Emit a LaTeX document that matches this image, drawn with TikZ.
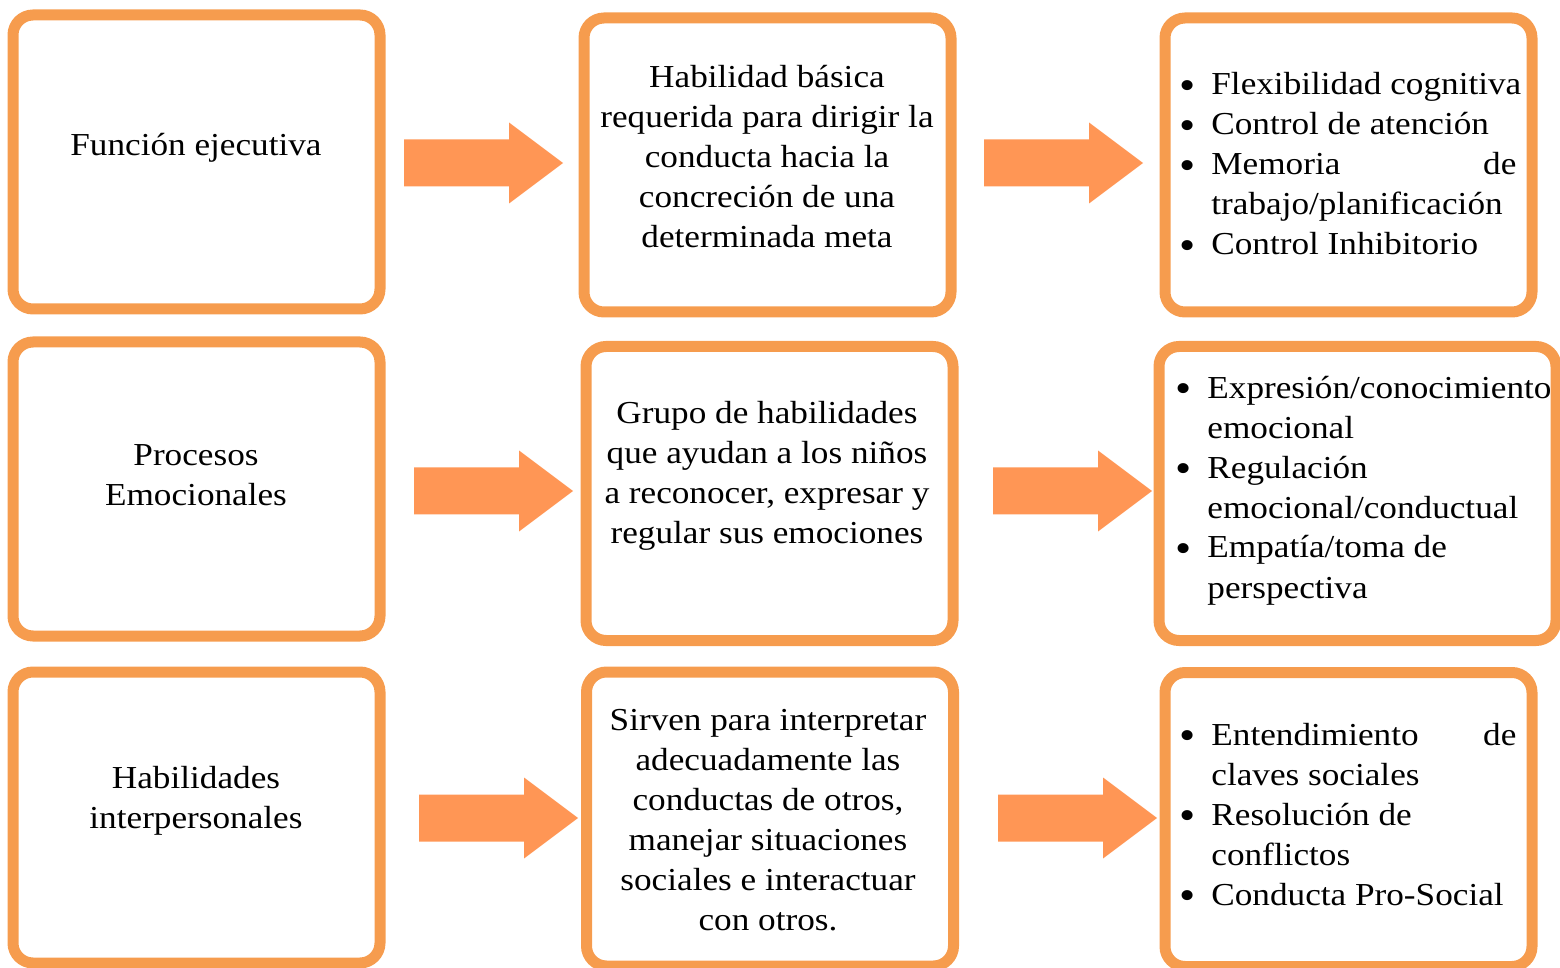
\documentclass[tikz,border=0pt]{standalone}
\usepackage{fontspec}
\setmainfont{Liberation Serif}[FakeStretch=1.1]
\definecolor{boxline}{RGB}{246,156,78}
\definecolor{arrowfill}{RGB}{255,150,85}
\newcommand{\itm}{\makebox[16pt][l]{\raisebox{-2.2pt}{\fontsize{21}{20}\selectfont\textbullet}}}
\newcommand{\spread}[2]{\hbox to 152.5pt{#1\hfill #2}}

\begin{document}
\begin{tikzpicture}[x=0.5pt, y=-0.5pt,
      box/.style={draw=boxline, line width=5.5pt, rounded corners=10pt,
                  minimum width=183.5pt, minimum height=147pt, inner sep=0pt},
      txt/.style={font=\fontsize{16}{20}\selectfont, align=center, inner sep=0pt},
      lst/.style={font=\fontsize{16}{20}\selectfont, inner sep=0pt, anchor=west},
      fat/.style={fill=arrowfill}
    ]
    \useasboundingbox (0,0) rectangle (1560,968);
    % boxes
    \node[box] (fe)  at (196.5,162) {};
    \node[box] (hb)  at (767.5,165) {};
    \node[box] (ls1) at (1348.5,165) {};
    \node[box] (pe)  at (196.5,489) {};
    \node[box] (gh)  at (769.5,493.5) {};
    \node[box, minimum width=198.5pt] (ls2) at (1357.5,493.5) {};
    \node[box, minimum height=145.5pt] (hi) at (196.5,817.5) {};
    \node[box] (si)  at (770,819) {};
    \node[box] (ls3) at (1348.5,819.5) {};
    % arrows
    \foreach \x/\y in {404/163, 984/163, 414/491, 993/491, 419/818, 998/818}
      \fill[fat] (\x,\y-23.5) -- ++(105,0) -- ++(0,-17) -- (\x+159,\y)
        -- (\x+105,\y+40.5) -- ++(0,-17) -- (\x,\y+23.5) -- cycle;
    % texts
    \node[txt] (fe-t) at (196,148) {Función ejecutiva};
    \node[txt] (pe-t) at (196,475) {Procesos\\Emocionales};
    \node[txt] (hi-t) at (196,801) {Habilidades\\interpersonales};
    \node[txt] (hb-t) at (767,157) {Habilidad básica\\requerida para dirigir la\\conducta hacia la\\concreción de una\\determinada meta};
    \node[txt] (gh-t) at (767,476) {Grupo de habilidades\\que ayudan a los niños\\a reconocer, expresar y\\regular sus emociones};
    \node[txt] (si-t) at (768,820) {Sirven para interpretar\\adecuadamente las\\conductas de otros,\\manejar situaciones\\sociales e interactuar\\con otros.};
    \node[lst] (ls1-t) at (1179,167) {\begin{tabular}{@{}l@{}l@{}}
      \itm & Flexibilidad cognitiva\\
      \itm & Control de atención\\
      \itm & \spread{Memoria}{de}\\
           & trabajo/planificación\\
      \itm & Control Inhibitorio
    \end{tabular}};
    \node[lst] (ls2-t) at (1175,490) {\begin{tabular}{@{}l@{}l@{}}
      \itm & Expresión/conocimiento\\
           & emocional\\
      \itm & Regulación\\
           & emocional/conductual\\
      \itm & Empatía/toma de\\
           & perspectiva
    \end{tabular}};
    \node[lst] (ls3-t) at (1179,817) {\begin{tabular}{@{}l@{}l@{}}
      \itm & \spread{Entendimiento}{de}\\
           & claves sociales\\
      \itm & Resolución de\\
           & conflictos\\
      \itm & Conducta Pro-Social
    \end{tabular}};
  \end{tikzpicture}
\end{document}
